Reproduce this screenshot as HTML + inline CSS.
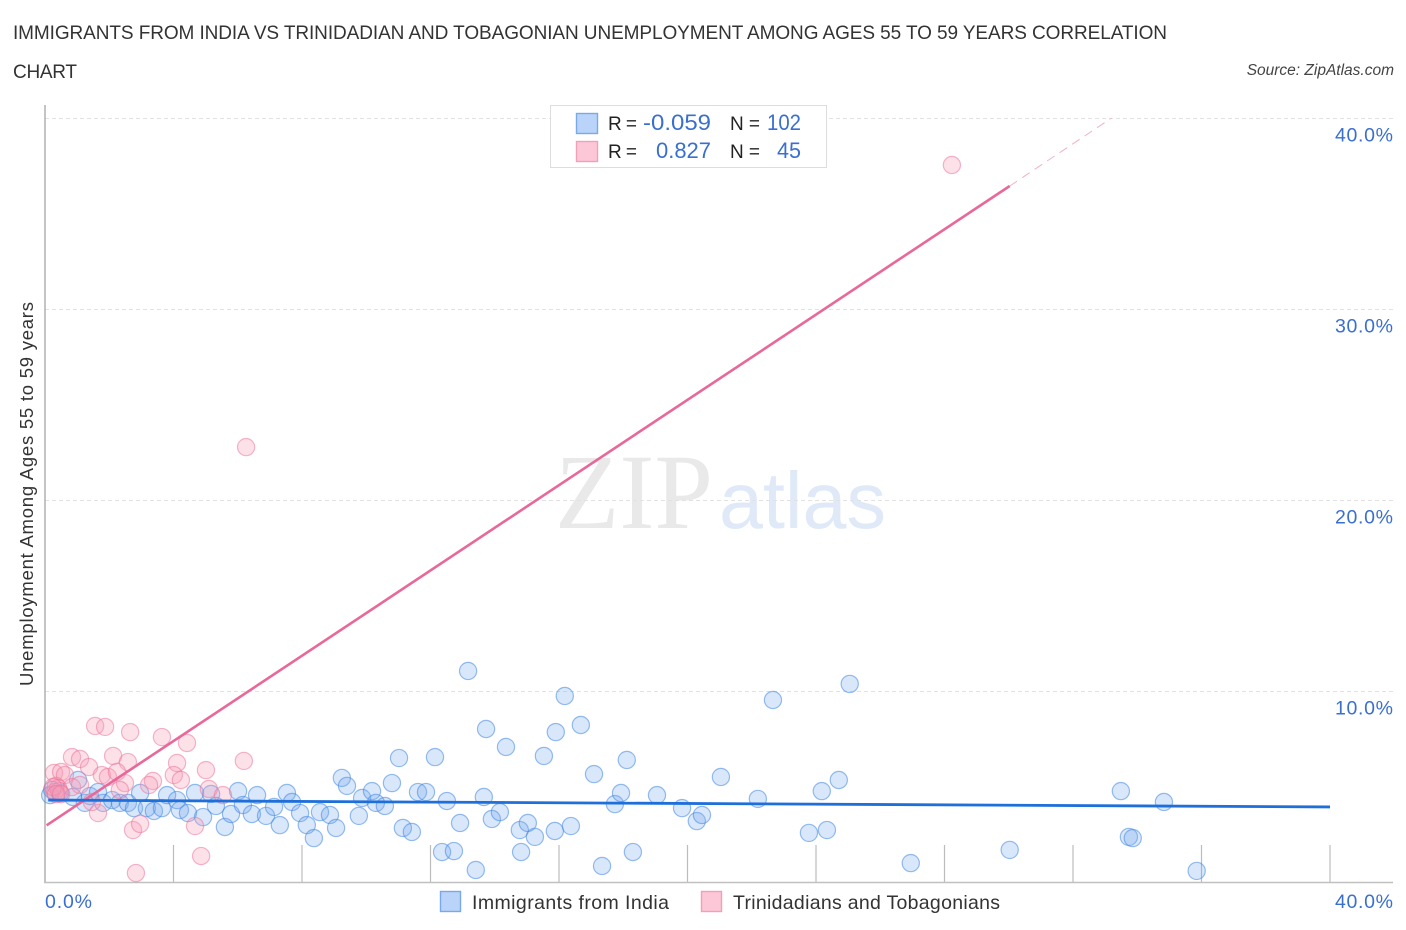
<!DOCTYPE html>
<html lang="en">
<head>
<meta charset="utf-8">
<title>Immigrants from India vs Trinidadian and Tobagonian Unemployment Correlation Chart</title>
<style>
html,body{margin:0;padding:0;background:#fff;}
svg{display:block;font-family:"Liberation Sans",sans-serif;}
</style>
</head>
<body>
<svg id="chart" xmlns="http://www.w3.org/2000/svg" width="1406" height="930" viewBox="0 0 1406 930">
  <text x="13" y="39" font-size="19" fill="#333" textLength="1154" lengthAdjust="spacing">IMMIGRANTS FROM INDIA VS TRINIDADIAN AND TOBAGONIAN UNEMPLOYMENT AMONG AGES 55 TO 59 YEARS CORRELATION</text>
  <text x="13" y="78" font-size="19" fill="#333" textLength="64" lengthAdjust="spacing">CHART</text>
  <text x="1394" y="75" font-size="15.5" font-style="italic" fill="#444" text-anchor="end">Source: ZipAtlas.com</text>

  <g>
    <text x="555" y="528" font-family="'Liberation Serif',serif" font-size="107" fill="#e9e9e9" textLength="158" lengthAdjust="spacingAndGlyphs">ZIP</text>
    <text x="719" y="528" font-size="80" fill="#dfe9f8" textLength="167" lengthAdjust="spacingAndGlyphs">atlas</text>
  </g>

  <g id="grid"></g>
  <g id="ticks"></g>
  <line x1="45" y1="105" x2="45" y2="883" stroke="#b0b0b0" stroke-width="1.5"/>
  <line x1="44" y1="882.5" x2="1393" y2="882.5" stroke="#c0c0c0" stroke-width="1.5"/>
  <g id="blue-points"></g>
  <g id="pink-points"></g>
  <g id="trends"></g>
  <g id="y-labels"></g>
  <g id="x-labels"></g>

  <text transform="translate(33,494) rotate(-90)" font-size="18.5" fill="#333" text-anchor="middle" textLength="384" lengthAdjust="spacing">Unemployment Among Ages 55 to 59 years</text>

  <g>
    <rect x="550.5" y="105.5" width="276" height="62" fill="#fff" stroke="#ddd" stroke-width="1"/>
    <rect x="576.5" y="113.5" width="21" height="20" fill="#b9d4f8" stroke="#7aa9e8" stroke-width="1.4"/>
    <rect x="576.5" y="141.5" width="21" height="20" fill="#fcc8d8" stroke="#efa0bb" stroke-width="1.4"/>
    <text x="608" y="130" font-size="19" fill="#222" textLength="29" lengthAdjust="spacing">R =</text>
    <text x="608" y="158" font-size="19" fill="#222" textLength="29" lengthAdjust="spacing">R =</text>
    <text x="711" y="130" font-size="22" fill="#3a6fd0" text-anchor="end" textLength="68" lengthAdjust="spacingAndGlyphs">-0.059</text>
    <text x="711" y="158" font-size="22" fill="#3a6fd0" text-anchor="end" textLength="55" lengthAdjust="spacingAndGlyphs">0.827</text>
    <text x="730" y="130" font-size="19" fill="#222" textLength="30" lengthAdjust="spacing">N =</text>
    <text x="730" y="158" font-size="19" fill="#222" textLength="30" lengthAdjust="spacing">N =</text>
    <text x="801" y="130" font-size="22" fill="#3a6fd0" text-anchor="end" textLength="34" lengthAdjust="spacingAndGlyphs">102</text>
    <text x="801" y="158" font-size="22" fill="#3a6fd0" text-anchor="end" textLength="24" lengthAdjust="spacingAndGlyphs">45</text>
  </g>

  <g>
    <rect x="440.5" y="891.5" width="20" height="20" fill="#b9d4f8" stroke="#7aa9e8" stroke-width="1.4"/>
    <text x="472" y="909" font-size="19.5" fill="#333" textLength="197" lengthAdjust="spacing">Immigrants from India</text>
    <rect x="701.5" y="891.5" width="20" height="20" fill="#fcc8d8" stroke="#efa0bb" stroke-width="1.4"/>
    <text x="733" y="909" font-size="19.5" fill="#333" textLength="267" lengthAdjust="spacing">Trinidadians and Tobagonians</text>
  </g>
</svg>

<script>
const yTickValues = [10, 20, 30, 40];
const yTickLabels = ["10.0%", "20.0%", "30.0%", "40.0%"];
const xTickValues = [4, 8, 12, 16, 20, 24, 28, 32, 36, 40];
const xEndLabels = ["0.0%", "40.0%"];

const indiaX = [0.22,0.16,0.47,0.87,1.03,1.24,1.40,1.65,1.81,2.09,2.33,2.58,2.77,2.96,3.17,3.39,3.64,3.80,4.11,4.20,4.45,4.67,4.92,5.17,5.32,5.60,5.79,6.01,6.16,6.44,6.60,6.88,7.13,7.31,7.53,7.69,7.94,8.15,8.37,8.56,8.87,9.06,9.24,9.40,9.77,9.87,10.18,10.30,10.58,10.80,11.02,11.14,11.42,11.61,11.86,12.14,12.36,12.51,12.73,12.92,13.17,13.41,13.66,13.73,13.91,14.16,14.35,14.78,14.82,15.03,15.25,15.53,15.87,15.90,16.18,16.37,16.68,17.09,17.34,17.74,17.93,18.11,18.30,19.05,19.83,20.29,20.45,21.04,22.19,22.66,23.78,24.18,24.34,24.71,25.05,26.95,30.03,33.49,33.74,33.86,34.83,35.85];
const indiaY = [4.82,4.55,4.66,4.45,5.34,4.14,4.50,4.71,4.14,4.29,4.14,4.14,3.87,4.66,3.87,3.72,3.87,4.55,4.29,3.77,3.61,4.66,3.40,4.61,3.98,2.88,3.56,4.76,4.03,3.56,4.55,3.46,3.93,2.98,4.66,4.19,3.61,2.98,2.30,3.66,3.51,2.83,5.45,5.03,3.46,4.40,4.76,4.14,3.98,5.18,6.49,2.83,2.62,4.71,4.71,6.54,1.57,4.24,1.62,3.09,11.05,0.63,4.45,8.01,3.30,3.66,7.07,2.72,1.57,3.09,2.36,6.60,2.67,7.85,9.74,2.93,8.22,5.65,0.84,4.08,4.66,6.39,1.57,4.55,3.87,3.19,3.51,5.50,4.35,9.53,2.57,4.76,2.72,5.34,10.37,0.99,1.68,4.76,2.36,2.30,4.19,0.58];

const trinidadX = [1.56,1.87,2.65,3.64,4.42,0.84,1.09,1.37,2.12,2.58,4.11,4.01,4.23,1.77,1.96,2.24,2.49,3.36,3.24,2.33,1.65,2.74,2.96,0.28,0.50,0.62,0.34,0.41,0.31,0.44,0.84,1.09,0.25,0.34,0.50,1.46,5.01,6.19,5.10,5.54,4.67,4.86,2.83,6.26,28.23];
const trinidadY = [8.17,8.12,7.85,7.59,7.28,6.54,6.44,6.02,6.60,6.28,6.23,5.60,5.34,5.60,5.50,5.76,5.18,5.29,5.08,4.82,3.61,2.72,3.04,5.71,5.76,5.60,5.03,4.92,4.71,4.76,4.97,5.08,4.97,4.60,4.60,4.19,5.86,6.34,4.87,4.55,2.93,1.36,0.47,22.77,37.54];

const indiaTrendX = [0.1, 40];
const indiaTrendY = [4.29, 3.93];
const trinidadTrendX = [0.05, 30.03];
const trinidadTrendY = [2.97, 36.44];
const trinidadExtensionX = [30.03, 33.2];
const trinidadExtensionY = [36.44, 40];

const SVG_NS = "http://www.w3.org/2000/svg";
function xScale(v) { return 45 + v * (1330 - 45) / 40; }
function yScale(v) { return 882 - v * (882 - 118) / 40; }
function make(tag, attrs, parent) {
  const el = document.createElementNS(SVG_NS, tag);
  for (const k in attrs) el.setAttribute(k, attrs[k]);
  parent.appendChild(el);
  return el;
}

const gridGroup = document.getElementById("grid");
const yLabelGroup = document.getElementById("y-labels");
yTickValues.forEach((v, i) => {
  const line = make("line", { x1: 45, x2: 1393, y1: yScale(v) + 0.5, y2: yScale(v) + 0.5, stroke: "#e2e2e2", "stroke-width": 1, "stroke-dasharray": "4 3" }, gridGroup);
  
  
  const label = make("text", { x: 1393, y: yScale(v) + 23.5, "font-size": 19.5, fill: "#3a6fd0", "text-anchor": "end", textLength: 58, lengthAdjust: "spacing" }, yLabelGroup);
  label.textContent = yTickLabels[i];
  
  
});

const tickGroup = document.getElementById("ticks");
xTickValues.forEach(v => {
  const tick = make("line", { x1: xScale(v), x2: xScale(v), y1: 845, y2: 882, stroke: "#bcbcbc", "stroke-width": 1.2 }, tickGroup);
  
  
});

const xLabelGroup = document.getElementById("x-labels");
const xLabelLeft = make("text", { x: 45, y: 908, "font-size": 19.5, fill: "#3a6fd0", textLength: 47, lengthAdjust: "spacing" }, xLabelGroup);
xLabelLeft.textContent = xEndLabels[0];


const xLabelRight = make("text", { x: 1393, y: 908, "font-size": 19.5, fill: "#3a6fd0", "text-anchor": "end", textLength: 58, lengthAdjust: "spacing" }, xLabelGroup);
xLabelRight.textContent = xEndLabels[1];



const blueGroup = document.getElementById("blue-points");
indiaX.forEach((v, i) => {
  const c = make("circle", { cx: xScale(v), cy: yScale(indiaY[i]), r: 8.6, fill: "rgba(115,170,238,0.28)", stroke: "rgba(60,130,225,0.52)", "stroke-width": 1.2 }, blueGroup);
  
  
});

const pinkGroup = document.getElementById("pink-points");
trinidadX.forEach((v, i) => {
  const c = make("circle", { cx: xScale(v), cy: yScale(trinidadY[i]), r: 8.6, fill: "rgba(248,155,182,0.3)", stroke: "rgba(235,115,155,0.52)", "stroke-width": 1.2 }, pinkGroup);
  
  
});

const trendGroup = document.getElementById("trends");
const pinkTrend = make("line", { x1: xScale(trinidadTrendX[0]), y1: yScale(trinidadTrendY[0]), x2: xScale(trinidadTrendX[1]), y2: yScale(trinidadTrendY[1]), stroke: "#e8689a", "stroke-width": 2.6 }, trendGroup);


const pinkExt = make("line", { x1: xScale(trinidadExtensionX[0]), y1: yScale(trinidadExtensionY[0]), x2: xScale(trinidadExtensionX[1]), y2: yScale(trinidadExtensionY[1]), stroke: "#f2b0c8", "stroke-width": 1, "stroke-dasharray": "9 6" }, trendGroup);


const blueTrend = make("line", { x1: xScale(indiaTrendX[0]), y1: yScale(indiaTrendY[0]), x2: xScale(indiaTrendX[1]), y2: yScale(indiaTrendY[1]), stroke: "#1f6fdb", "stroke-width": 2.8 }, trendGroup);


</script>
</body>
</html>
